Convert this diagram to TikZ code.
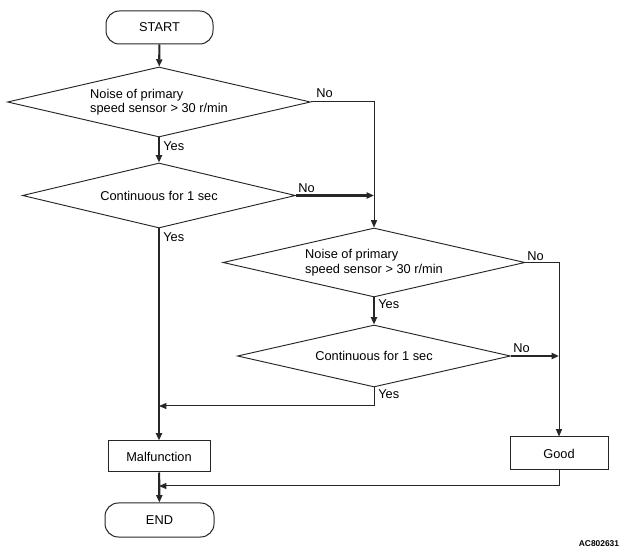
\documentclass[tikz,border=0pt]{standalone}
\usepackage{fontspec}
\setmainfont{Liberation Sans}
\usetikzlibrary{shapes.geometric,arrows.meta}
\begin{document}
\begin{tikzpicture}[x=0.75pt,y=-0.75pt,
  font=\fontsize{9.6}{10.8}\selectfont,
  thinline/.style={line width=0.75pt, draw=black!85},
  thickline/.style={line width=1.6pt, draw=black!85},
  arr/.style={-{Triangle[length=5.5pt,width=4.5pt]}},
  dia/.style={draw=black!85, diamond, inner sep=0pt, line width=0.7pt, align=left},
  box/.style={draw=black!85, rectangle, line width=0.75pt, inner sep=0pt},
  term/.style={box, rounded corners=10pt},
  lbl/.style={anchor=west, inner sep=0pt},
  ]
\path[fill=white] (0,0) rectangle (633,556);
\useasboundingbox (0,0) rectangle (633,556);

\node[term, minimum width=80.25pt, minimum height=24.75pt] (start) at (159.5,27.5) {START};
\node[dia, minimum width=227.25pt, minimum height=52.5pt, aspect=4.33] (d1) at (159,102) {Noise of primary\\speed sensor > 30 r/min};
\node[dia, minimum width=204.75pt, minimum height=48.75pt, aspect=4.2] (d2) at (159,195.5) {Continuous for 1 sec};
\node[dia, minimum width=226.5pt, minimum height=51.75pt, aspect=4.38] (d3) at (374,262.5) {Noise of primary\\speed sensor > 30 r/min};
\node[dia, minimum width=204.75pt, minimum height=46.5pt, aspect=4.4] (d4) at (374,356) {Continuous for 1 sec};
\node[box, minimum width=76.5pt, minimum height=23.25pt] (mal) at (159,456.5) {Malfunction};
\node[box, minimum width=73.5pt, minimum height=24.75pt] (good) at (559,453.5) {Good};
\node[term, minimum width=81.75pt, minimum height=25.5pt] (end) at (159.5,520) {END};

\coordinate (j1) at (159,406);
\coordinate (j2) at (159,486);

% connectors
\draw[thickline, arr] (start) -- (d1);
\draw[thickline, arr] (d1) -- (d2);
\draw[thickline, arr] (d2) -- (mal);
\draw[thickline, arr] (mal) -- (end);
\draw[thinline, arr] (d1.east) -| (d3.north);
\draw[thickline, arr] (d2.east) -- (d2.east -| d3.north);
\draw[thickline, arr] (d3) -- (d4);
\draw[thinline, arr] (d3.east) -| (good.north);
\draw[thickline, arr] (d4.east) -- (d4.east -| good.north);
\draw[thinline, arr] (d4.south) |- (j1);
\draw[thinline, arr] (good.south) |- (j2);

% labels
\node[lbl] (n1) at (316,93) {No};
\node[lbl] (y1) at (163,146) {Yes};
\node[lbl] (n2) at (298,188) {No};
\node[lbl] (y2) at (163,237) {Yes};
\node[lbl] (n3) at (527,256) {No};
\node[lbl] (y3) at (378,304) {Yes};
\node[lbl] (n4) at (513,348) {No};
\node[lbl] (y4) at (378,394) {Yes};
\node[inner sep=0pt, font=\fontsize{6.3}{7}\selectfont\bfseries] (code) at (599,544) {AC802631};
\end{tikzpicture}
\end{document}
